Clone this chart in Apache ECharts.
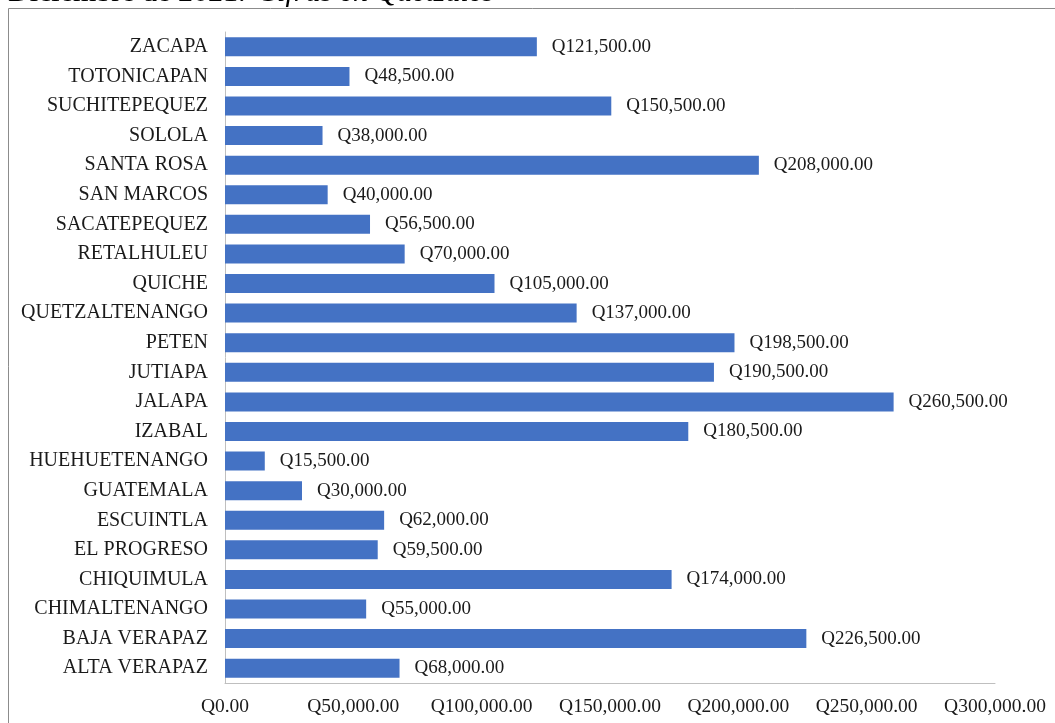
<!DOCTYPE html>
<html lang="es">
<head>
    <meta charset="UTF-8">
    <title>Cifras en Quetzales</title>
    <script src="https://cdn.jsdelivr.net/npm/echarts@6/dist/echarts.min.js"></script>
    <style>
        html, body {margin: 0; padding: 0; background: #fff;}
        #main {width: 1055px; height: 723px;}
    </style>
</head>
<body>
    <div id="main"></div>
    <script>
    // departamentos, de abajo hacia arriba
    var departamentos = ['ALTA VERAPAZ', 'BAJA VERAPAZ', 'CHIMALTENANGO', 'CHIQUIMULA', 'EL PROGRESO',
        'ESCUINTLA', 'GUATEMALA', 'HUEHUETENANGO', 'IZABAL', 'JALAPA', 'JUTIAPA', 'PETEN',
        'QUETZALTENANGO', 'QUICHE', 'RETALHULEU', 'SACATEPEQUEZ', 'SAN MARCOS', 'SANTA ROSA',
        'SOLOLA', 'SUCHITEPEQUEZ', 'TOTONICAPAN', 'ZACAPA'];
    var montos = [68000, 226500, 55000, 174000, 59500, 62000, 30000, 15500, 180500, 260500, 190500, 198500,
        137000, 105000, 70000, 56500, 40000, 208000, 38000, 150500, 48500, 121500];
    var ejeMin = 0, ejeMax = 300000, ejePaso = 50000;

    var serif = '"Liberation Serif", "Times New Roman", serif';

    function quetzales(v) {
        return 'Q' + Number(v).toLocaleString('en-US', {minimumFractionDigits: 2, maximumFractionDigits: 2});
    }

    var myChart = echarts.init(document.getElementById('main'));
    var option = {
        animation: false,
        backgroundColor: '#fff',
        graphic: [
            {
                type: 'rect',
                shape: {x: 8.5, y: 8.5, width: 1200, height: 900},
                style: {fill: 'none', stroke: '#8c8c8c', lineWidth: 1},
                silent: true
            },
            {
                type: 'text',
                x: 8, y: 8,
                style: {
                    text: '{a|Diciembre de 2021.}  {b|Cifras en Quetzales}',
                    verticalAlign: 'bottom',
                    rich: {
                        a: {fontFamily: serif, fontSize: 30, fill: '#000'},
                        b: {fontFamily: serif, fontSize: 30, fontStyle: 'italic', fill: '#000', padding: [0, 0, 0, 5]}
                    }
                }
            }
        ],
        grid: {left: 225, right: 60, top: 32, bottom: 40, containLabel: false},
        xAxis: {
            type: 'value',
            min: ejeMin,
            max: ejeMax,
            interval: ejePaso,
            splitLine: {show: false},
            axisLine: {show: true, lineStyle: {color: '#bfbfbf'}},
            axisTick: {show: false},
            axisLabel: {
                margin: 14,
                fontFamily: serif,
                fontSize: 19.5,
                color: '#1a1a1a',
                formatter: quetzales
            }
        },
        yAxis: {
            type: 'category',
            data: departamentos,
            axisLine: {show: true, lineStyle: {color: '#bfbfbf'}},
            axisTick: {show: false},
            axisLabel: {
                margin: 17,
                fontFamily: serif,
                fontSize: 20,
                color: '#1a1a1a'
            }
        },
        series: [
            {
                type: 'bar',
                data: montos,
                barWidth: 19,
                itemStyle: {color: '#4472c4'},
                label: {
                    show: true,
                    position: 'right',
                    distance: 15,
                    fontFamily: serif,
                    fontSize: 19,
                    color: '#1a1a1a',
                    formatter: function (p) { return quetzales(p.value); }
                }
            }
        ]
    };
    myChart.setOption(option);
    </script>
</body>
</html>
